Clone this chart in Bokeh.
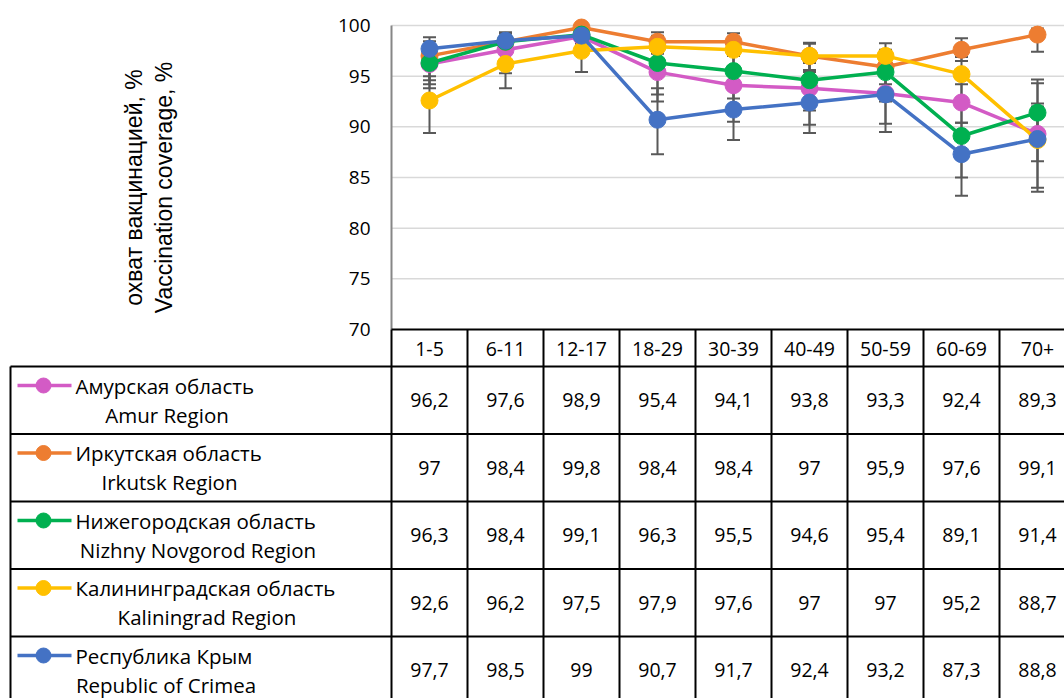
from bokeh.plotting import figure
from bokeh.models import Range1d
from bokeh.core.properties import value
from bokeh.embed import file_html
from bokeh.resources import INLINE
import math

# Age groups and vaccination coverage (%) by region
ages = ["1-5", "6-11", "12-17", "18-29", "30-39", "40-49", "50-59", "60-69", "70+"]

amur = [96.2, 97.6, 98.9, 95.4, 94.1, 93.8, 93.3, 92.4, 89.3]
irkutsk = [97, 98.4, 99.8, 98.4, 98.4, 97, 95.9, 97.6, 99.1]
nizhny = [96.3, 98.4, 99.1, 96.3, 95.5, 94.6, 95.4, 89.1, 91.4]
kaliningrad = [92.6, 96.2, 97.5, 97.9, 97.6, 97, 97, 95.2, 88.7]
crimea = [97.7, 98.5, 99, 90.7, 91.7, 92.4, 93.2, 87.3, 88.8]

# Confidence interval bounds
amur_lo = [94.2, 95.3, 98.2, 92.5, 90.5, 90.2, 90.3, 90.4, 84.0]
amur_hi = [97.8, 99.0, 99.5, 97.8, 97.0, 96.3, 95.9, 94.2, 94.3]
irkutsk_lo = [94.6, 97.2, 99.4, 97.2, 97.2, 95.4, 94.2, 96.5, 97.4]
irkutsk_hi = [98.45, 99.3, 100.0, 99.34, 99.24, 98.3, 97.3, 98.75, 99.7]
nizhny_lo = [93.8, 97.3, 98.5, 93.2, 92.8, 91.6, 92.5, 85.0, 89.6]
nizhny_hi = [98.0, 99.2, 99.6, 98.6, 97.6, 96.8, 97.6, 92.8, 94.67]
kaliningrad_lo = [89.4, 93.8, 95.4, 96.3, 96.0, 95.6, 95.5, 92.4, 83.6]
kaliningrad_hi = [95.0, 98.0, 98.9, 99.0, 98.9, 98.2, 98.26, 96.9, 92.0]
crimea_lo = [96.4, 97.5, 98.4, 87.3, 88.7, 89.4, 89.5, 83.2, 86.6]
crimea_hi = [98.85, 99.3, 99.5, 93.8, 94.6, 95.0, 95.6, 90.4, 92.3]

names_ru = ["Амурская область", "Иркутская область", "Нижегородская область",
            "Калининградская область", "Республика Крым"]
names_en = ["Amur Region", "Irkutsk Region", "Nizhny Novgorod Region",
            "Kaliningrad Region", "Republic of Crimea"]
colors = ["#D35BC5", "#ED7D31", "#00B050", "#FFC000", "#4472C4"]

y_ticks = [70, 75, 80, 85, 90, 95, 100]
y_title = ["охват вакцинацией, %", "Vaccination coverage, %"]

series = [amur, irkutsk, nizhny, kaliningrad, crimea]
lows = [amur_lo, irkutsk_lo, nizhny_lo, kaliningrad_lo, crimea_lo]
highs = [amur_hi, irkutsk_hi, nizhny_hi, kaliningrad_hi, crimea_hi]

# ---- layout (pixels) ----
W, H = 1064, 698
PLOT_LEFT = 391          # left edge of the chart area / first table column
COL_W = 76               # width of one age-group column
Y_TOP_PX, Y_BOT_PX = 25, 329   # pixel rows of 100 % and 70 %
Y_MAX, Y_MIN = 100, 70
px_per_unit = (Y_BOT_PX - Y_TOP_PX) / (Y_MAX - Y_MIN)

x_start = -PLOT_LEFT / COL_W
x_end = (W - PLOT_LEFT) / COL_W
y_end = Y_MAX + Y_TOP_PX / px_per_unit
y_start = Y_MAX - (H - Y_TOP_PX) / px_per_unit

p = figure(width=W, height=H, output_backend="svg", toolbar_location=None,
           x_range=Range1d(x_start, x_end), y_range=Range1d(y_start, y_end),
           x_axis_location=None, y_axis_location=None, min_border=0)
p.outline_line_color = None
p.grid.visible = False
p.extra_x_ranges = {"px": Range1d(0, W)}
p.extra_y_ranges = {"px": Range1d(H, 0)}

FONT = "Open Sans"
xs = [i + 0.5 for i in range(len(ages))]
n = len(ages)

# gridlines
grid_y = [t for t in y_ticks if t > Y_MIN]
p.segment(x0=[0] * len(grid_y), x1=[n] * len(grid_y), y0=grid_y, y1=grid_y,
          line_color="#D9D9D9", line_width=1.5)
# value axis line
p.segment(x0=[0], x1=[0], y0=[Y_MIN], y1=[Y_MAX], line_color="#868686", line_width=2)
# tick labels
p.text(x=[370] * len(y_ticks), y=y_ticks, text=[str(t) for t in y_ticks],
       x_range_name="px", text_align="right", text_baseline="middle",
       text_font=value(FONT), text_font_size="19px", text_color="#000000")
# axis title (two rotated lines)
p.text(x=[133, 163], y=[187, 187], text=y_title, x_range_name="px", y_range_name="px",
       angle=math.pi / 2, text_align="center", text_baseline="middle",
       text_font=value("Liberation Sans"), text_font_size="23px", text_color="#000000")

# error bars (behind the lines)
EB = "#595959"
for lo, hi in zip(lows, highs):
    p.segment(x0=xs, x1=xs, y0=lo, y1=hi, line_color=EB, line_width=2)
    p.scatter(x=xs + xs, y=lo + hi, marker="dash", size=13, line_color=EB, line_width=2)

# series
for vals, c in zip(series, colors):
    p.line(x=xs, y=vals, line_color=c, line_width=3.5)
    p.scatter(x=xs, y=vals, size=17, fill_color=c, line_color=c)

# ---- data table ----
LINE = "#000000"
HEADER_BOTTOM = 366
ROW_H = 67.5
row_tops = [HEADER_BOTTOM + k * ROW_H for k in range(len(series))]

# header top border and column separators
p.segment(x0=[0], x1=[n], y0=[Y_MIN], y1=[Y_MIN], line_color=LINE, line_width=2)
p.segment(x0=list(range(n + 1)), x1=list(range(n + 1)), y0=[Y_BOT_PX] * (n + 1),
          y1=[H + 5] * (n + 1), y_range_name="px", line_color=LINE, line_width=2)
# row borders and left edge
p.segment(x0=[10] * len(row_tops), x1=[W] * len(row_tops), y0=row_tops, y1=row_tops,
          x_range_name="px", y_range_name="px", line_color=LINE, line_width=2)
p.segment(x0=[10], x1=[10], y0=[HEADER_BOTTOM], y1=[H + 5],
          x_range_name="px", y_range_name="px", line_color=LINE, line_width=2)

# header labels
p.text(x=xs, y=[(Y_BOT_PX + HEADER_BOTTOM) / 2 + 1] * n, text=ages, y_range_name="px",
       text_align="center", text_baseline="middle", text_font=value(FONT),
       text_font_size="19.5px", text_color="#000000")


def fmt(v):
    s = f"{v:g}"
    return s.replace(".", ",")


line1_width = [183, 188, 245, 263, 181]
for k, (vals, c) in enumerate(zip(series, colors)):
    top = row_tops[k]
    mid = top + ROW_H / 2
    p.text(x=xs, y=[mid] * n, text=[fmt(v) for v in vals], y_range_name="px",
           text_align="center", text_baseline="middle", text_font=value(FONT),
           text_font_size="19.5px", text_color="#000000")
    ky = top + 19
    p.segment(x0=[17], x1=[71], y0=[ky], y1=[ky], x_range_name="px", y_range_name="px",
              line_color=c, line_width=3.5)
    p.scatter(x=[43], y=[ky], x_range_name="px", y_range_name="px", size=15,
              fill_color=c, line_color=c)
    p.text(x=[75], y=[ky], text=[names_ru[k]], x_range_name="px", y_range_name="px",
           text_align="left", text_baseline="middle", text_font=value(FONT),
           text_font_size="20.5px", text_color="#000000")
    p.text(x=[75 + line1_width[k] / 2], y=[top + 48], text=[names_en[k]],
           x_range_name="px", y_range_name="px", text_align="center",
           text_baseline="middle", text_font=value(FONT),
           text_font_size="20.5px", text_color="#000000")

open("out.html", "w").write(file_html(p, INLINE))
